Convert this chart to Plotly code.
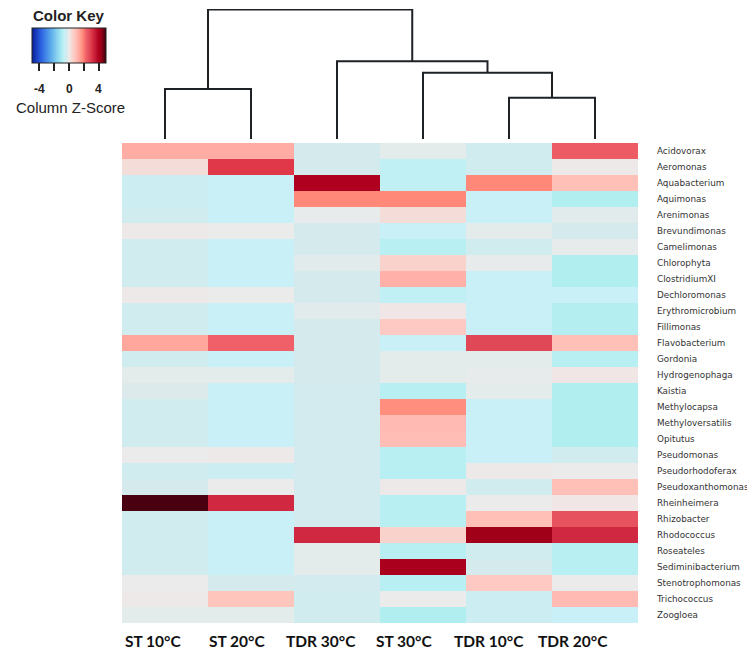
import plotly.graph_objects as go

# ---------------- data ----------------
samples = ["ST 10°C", "ST 20°C", "TDR 30°C", "ST 30°C", "TDR 10°C", "TDR 20°C"]

genera = ["Acidovorax", "Aeromonas", "Aquabacterium", "Aquimonas", "Arenimonas",
          "Brevundimonas", "Camelimonas", "Chlorophyta", "ClostridiumXI", "Dechloromonas",
          "Erythromicrobium", "Fillimonas", "Flavobacterium", "Gordonia", "Hydrogenophaga",
          "Kaistia", "Methylocapsa", "Methyloversatilis", "Opitutus", "Pseudomonas",
          "Pseudorhodoferax", "Pseudoxanthomonas", "Rheinheimera", "Rhizobacter", "Rhodococcus",
          "Roseateles", "Sediminibacterium", "Stenotrophomonas", "Trichococcus", "Zoogloea"]

# column z-scores, one list per sample column (rows follow `genera`)
st10 = [1.3, 0.3, -0.5, -0.5, -0.4, 0.05, -0.4, -0.4, -0.4, 0.05,
        -0.4, -0.4, 1.4, -0.4, -0.1, -0.2, -0.4, -0.4, -0.4, 0.0,
        -0.4, -0.3, 4.9, -0.4, -0.4, -0.4, -0.4, 0.0, 0.05, -0.1]
st20 = [1.3, 3.0, -0.6, -0.6, -0.6, 0.0, -0.6, -0.6, -0.6, 0.0,
        -0.6, -0.6, 2.3, -0.6, -0.1, -0.6, -0.6, -0.6, -0.6, 0.05,
        -0.5, 0.0, 3.3, -0.6, -0.6, -0.6, -0.6, -0.3, 0.8, -0.1]
tdr30 = [-0.3, -0.3, 4.0, 1.9, -0.05, -0.3, -0.3, -0.15, -0.3, -0.3,
         -0.15, -0.3, -0.3, -0.3, -0.3, -0.35, -0.35, -0.35, -0.35, -0.35,
         -0.35, -0.35, -0.35, -0.35, 3.3, -0.1, -0.1, -0.35, -0.4, -0.4]
st30 = [-0.1, -0.7, -0.7, 1.9, 0.3, -0.6, -0.8, 0.5, 1.2, -0.7,
        0.1, 0.7, -0.6, -0.1, -0.1, -0.8, 1.8, 1.0, 0.95, -0.8,
        -0.8, 0.05, -0.8, -0.8, 0.5, -0.8, 4.1, -0.8, 0.0, -0.9]
tdr10 = [-0.4, -0.4, 1.9, -0.6, -0.6, -0.1, -0.4, -0.05, -0.6, -0.6,
         -0.6, -0.6, 2.8, -0.1, -0.05, -0.1, -0.6, -0.6, -0.6, -0.6,
         0.05, -0.4, 0.0, 0.9, 4.3, -0.4, -0.3, 0.7, -0.5, -0.5]
tdr20 = [2.4, 0.05, 0.9, -0.9, -0.15, -0.3, -0.05, -0.9, -0.9, -0.6,
         -0.85, -0.85, 0.9, -0.8, 0.1, -0.9, -0.9, -0.9, -0.9, -0.4,
         0.0, 0.9, 0.1, 2.6, 3.3, -0.8, -0.8, 0.0, 1.0, -0.6]

# dendrogram merges over leaf indices (left, right, height); new nodes get ids 6, 7, ...
merges = [(0, 1, 52), (4, 5, 43), (3, 7, 69), (2, 8, 81), (6, 9, 135)]

key_ticks = [-4, -2, 0, 2, 4]
key_labels = ["-4", "", "0", "", "4"]
key_range = [-5, 5]

# ---------------- styling ----------------
PAGE_OFF = 8                       # default body margin of the html page
W, H = 755 - PAGE_OFF, 657 - PAGE_OFF
colorscale = [
    [0.00, "#0a1e9a"], [0.12, "#2a60e0"], [0.25, "#5aa8ec"], [0.35, "#90d8f0"],
    [0.41, "#b0eef0"], [0.44, "#c8f0f6"], [0.47, "#d5eaec"], [0.50, "#ecebeb"],
    [0.55, "#fad2cc"], [0.59, "#ffc0b8"], [0.63, "#ffaca4"], [0.69, "#ff8878"],
    [0.73, "#f06068"], [0.78, "#e04858"], [0.80, "#e03848"], [0.83, "#d02840"],
    [0.90, "#b00020"], [0.93, "#a00018"], [1.00, "#3a0010"],
]

cols = [st10, st20, tdr30, st30, tdr10, tdr20]
z = [[c[i] for c in cols] for i in range(len(genera))]

def px_x(p):
    return min(1.0, max(0.0, (p - PAGE_OFF) / W))

def px_y(p):
    return min(1.0, max(0.0, 1 - (p - PAGE_OFF) / H))

KEY_L, KEY_W = 32, 74
LABEL_L, LABEL_STEP = 111, 84      # sample labels sit slightly left of the columns

fig = go.Figure()

fig.add_trace(go.Heatmap(
    z=z, x=samples, y=genera, colorscale=colorscale, zmin=key_range[0], zmax=key_range[1],
    xaxis="x", yaxis="y", hoverinfo="x+y+z",
    colorbar=dict(
        orientation="h", x=px_x(KEY_L), xanchor="left", y=px_y(28), yanchor="top",
        lenmode="pixels", len=KEY_W, thickness=35, xpad=0, ypad=0,
        outlinewidth=1, outlinecolor="#222",
        tickmode="array", tickvals=key_ticks, ticktext=key_labels,
        ticks="outside", ticklen=8, tickwidth=2, tickcolor="#222",
        showticklabels=False,
    ),
))

# dendrogram
pos = {i: float(i) for i in range(len(samples))}
hgt = {i: 0.0 for i in range(len(samples))}
node = len(samples)
for a, b, h in merges:
    xs = [pos[a], pos[a], pos[b], pos[b]]
    ys = [hgt[a], h, h, hgt[b]]
    fig.add_trace(go.Scatter(x=xs, y=ys, mode="lines", xaxis="x2", yaxis="y2",
                             line=dict(color="#1e2226", width=2), hoverinfo="skip",
                             showlegend=False, cliponaxis=False))
    pos[node] = (pos[a] + pos[b]) / 2
    hgt[node] = h
    node += 1

annotations = []
# colour-key tick labels (placed on the key's value scale)
for v, t in zip(key_ticks, key_labels):
    if not t:
        continue
    xp = KEY_L + (v - key_range[0]) / (key_range[1] - key_range[0]) * KEY_W
    annotations.append(dict(text=f"<b>{t}</b>", x=px_x(xp), y=px_y(89), xref="paper",
                            yref="paper", xanchor="center", yanchor="middle",
                            showarrow=False,
                            font=dict(family="Liberation Sans", size=12, color="#222")))
annotations.append(dict(text="<b>Color Key</b>", x=px_x(69), y=px_y(15), xref="paper",
                        yref="paper", xanchor="center", yanchor="middle", showarrow=False,
                        font=dict(family="Liberation Sans", size=15, color="#222")))
annotations.append(dict(text="Column Z-Score", x=px_x(70), y=px_y(107), xref="paper",
                        yref="paper", xanchor="center", yanchor="middle", showarrow=False,
                        font=dict(family="Liberation Sans", size=15, color="#222")))
# sample labels under the heatmap
for i, s in enumerate(samples):
    annotations.append(dict(text=f"<b>{s}</b>", x=px_x(LABEL_L + (i + 0.5) * LABEL_STEP),
                            y=px_y(641), xref="paper", yref="paper", xanchor="center",
                            yanchor="middle", showarrow=False,
                            font=dict(family="Lato", size=15.5, color="#111")))

fig.update_layout(
    width=W, height=H, margin=dict(l=0, r=0, t=0, b=0, autoexpand=False),
    paper_bgcolor="white", plot_bgcolor="white", showlegend=False,
    xaxis=dict(domain=[px_x(122), px_x(638)], showgrid=False, zeroline=False,
               ticks="", showticklabels=False),
    yaxis=dict(domain=[px_y(623), px_y(143)], side="right", autorange="reversed",
               showgrid=False, zeroline=False, ticks="", ticklabelstandoff=18,
               tickfont=dict(family="DejaVu Sans", size=8.8, color="#333")),
    xaxis2=dict(domain=[px_x(122), px_x(638)], range=[-0.5, 5.5], visible=False,
                anchor="y2"),
    yaxis2=dict(domain=[px_y(139), px_y(9)], range=[0, 135.5], visible=False,
                anchor="x2"),
    annotations=annotations,
)

fig.write_html("out.html")
